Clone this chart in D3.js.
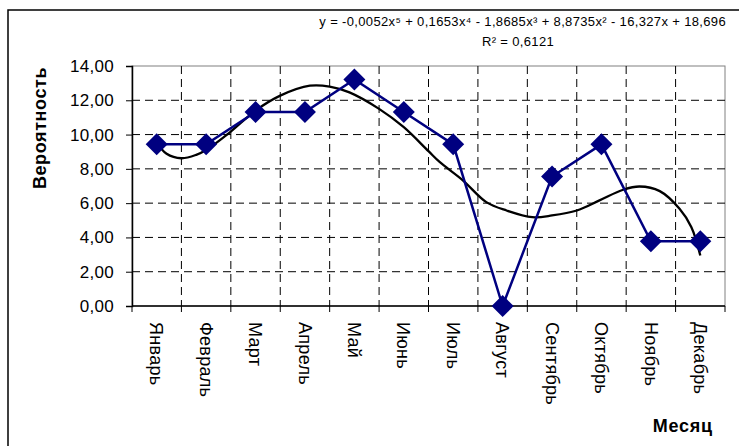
<!DOCTYPE html>
<html>
<head>
<meta charset="utf-8">
<script src="https://cdn.jsdelivr.net/npm/d3@7"></script>
<style>
  body { margin: 0; background: #fff; }
  svg { font-family: "Liberation Sans", Arial, sans-serif; }
</style>
</head>
<body>
<script>
// months and probability values (%)
var months = ['Январь', 'Февраль', 'Март', 'Апрель', 'Май', 'Июнь', 'Июль', 'Август', 'Сентябрь', 'Октябрь', 'Ноябрь', 'Декабрь'];
var values = [9.43, 9.43, 11.32, 11.32, 13.21, 11.32, 9.43, 0, 7.55, 9.43, 3.77, 3.77];
var yTicks = [0, 2, 4, 6, 8, 10, 12, 14];

// trend curve: position in months (1 = Январь) and value
var trendX = [1.0, 1.2, 1.5, 1.8, 2.0, 2.48, 3.0, 3.5, 4.1, 4.5, 4.9, 5.5, 6.0, 6.5, 6.73, 7.2, 7.67, 8.08, 8.6, 9.0, 9.5, 9.96, 10.44, 10.77, 11.18, 11.58, 11.82, 12.0];
var trendY = [9.55, 8.88, 8.62, 8.82, 9.1, 10.13, 11.4, 12.27, 12.85, 12.8, 12.46, 11.5, 10.43, 9.03, 8.39, 7.32, 6.06, 5.57, 5.18, 5.28, 5.57, 6.16, 6.78, 6.97, 6.7, 5.67, 4.6, 2.95];

var equation = 'y = -0,0052x\u2075 + 0,1653x\u2074 - 1,8685x\u00b3 + 8,8735x\u00b2 - 16,327x + 18,696';
var rSquared = 'R\u00b2 = 0,6121';

var width = 739, height = 446;
var plot = { left: 132, top: 66, right: 725, bottom: 306 };

var svg = d3.select('body').append('svg')
    .attr('width', width)
    .attr('height', height);

// outer chart frame (runs off the right and bottom edges)
svg.append('rect')
    .attr('x', 8).attr('y', 10)
    .attr('width', 760).attr('height', 460)
    .attr('fill', 'none')
    .attr('stroke', '#000')
    .attr('stroke-width', 1.5);

var x = d3.scaleBand()
    .domain(months)
    .range([plot.left, plot.right]);

var y = d3.scaleLinear()
    .domain([0, 14])
    .range([plot.bottom, plot.top]);

// continuous month position -> pixel
var xm = d3.scaleLinear()
    .domain([1, 12])
    .range([x(months[0]) + x.bandwidth() / 2, x(months[11]) + x.bandwidth() / 2]);

// plot area border
svg.append('rect')
    .attr('x', plot.left).attr('y', plot.top)
    .attr('width', plot.right - plot.left).attr('height', plot.bottom - plot.top)
    .attr('fill', '#fff')
    .attr('stroke', '#808080')
    .attr('stroke-width', 1);

// horizontal gridlines
svg.append('g')
  .selectAll('line')
  .data(yTicks.filter(function(d){ return d > 0 && d < 14; }))
  .enter().append('line')
    .attr('x1', plot.left).attr('x2', plot.right)
    .attr('y1', function(d){ return y(d); })
    .attr('y2', function(d){ return y(d); })
    .attr('stroke', '#000')
    .attr('stroke-width', 1)
    .attr('stroke-dasharray', '8,5');

// vertical gridlines on category boundaries
svg.append('g')
  .selectAll('line')
  .data(months.slice(1))
  .enter().append('line')
    .attr('x1', function(d){ return x(d); })
    .attr('x2', function(d){ return x(d); })
    .attr('y1', plot.top).attr('y2', plot.bottom)
    .attr('stroke', '#000')
    .attr('stroke-width', 1)
    .attr('stroke-dasharray', '8,5');

// y axis
var yAxis = d3.axisLeft(y)
    .tickValues(yTicks)
    .tickSize(6)
    .tickPadding(12)
    .tickFormat(function(d){ return d3.format('.2f')(d).replace('.', ','); });

var gy = svg.append('g')
    .attr('transform', 'translate(' + plot.left + ',0)')
    .call(yAxis);
gy.select('.domain').attr('stroke', '#000').attr('stroke-width', 1.5);
gy.selectAll('text')
    .attr('font-size', 17)
    .attr('letter-spacing', 0.3)
    .attr('font-family', '"Liberation Sans", Arial, sans-serif')
    .attr('fill', '#000');

// x axis: ticks on boundaries, labels rotated
var gx = svg.append('g')
    .attr('transform', 'translate(0,' + plot.bottom + ')');
gx.append('line')
    .attr('x1', plot.left).attr('x2', plot.right)
    .attr('y1', 0).attr('y2', 0)
    .attr('stroke', '#000').attr('stroke-width', 1.5);
gx.selectAll('.tk')
  .data(months.concat(['end']))
  .enter().append('line')
    .attr('class', 'tk')
    .attr('x1', function(d){ return d === 'end' ? plot.right : x(d); })
    .attr('x2', function(d){ return d === 'end' ? plot.right : x(d); })
    .attr('y1', 0).attr('y2', 6)
    .attr('stroke', '#000');
gx.selectAll('.lbl')
  .data(months)
  .enter().append('text')
    .attr('class', 'lbl')
    .attr('transform', function(d){
        return 'translate(' + (x(d) + x.bandwidth() / 2) + ',16) rotate(90)';
    })
    .attr('dy', '0.35em')
    .attr('font-size', 18)
    .attr('letter-spacing', 0.3)
    .attr('fill', '#000')
    .text(function(d){ return d; });

// trend line
var trend = trendX.map(function(d, i){ return [d, trendY[i]]; });
svg.append('path')
    .datum(trend)
    .attr('fill', 'none')
    .attr('stroke', '#000')
    .attr('stroke-width', 2.3)
    .attr('d', d3.line()
        .x(function(d){ return xm(d[0]); })
        .y(function(d){ return y(d[1]); })
        .curve(d3.curveCatmullRom));

// data series
var line = d3.line()
    .x(function(d, i){ return x(months[i]) + x.bandwidth() / 2; })
    .y(function(d){ return y(d); });

svg.append('path')
    .datum(values)
    .attr('fill', 'none')
    .attr('stroke', '#000080')
    .attr('stroke-width', 2.5)
    .attr('d', line);

svg.append('g')
  .selectAll('path')
  .data(values)
  .enter().append('path')
    .attr('transform', function(d, i){
        return 'translate(' + (x(months[i]) + x.bandwidth() / 2) + ',' + y(d) + ')';
    })
    .attr('d', 'M0,-11L11,0L0,11L-11,0Z')
    .attr('fill', '#000080');

// axis titles
svg.append('text')
    .attr('transform', 'translate(46,128) rotate(-90)')
    .attr('text-anchor', 'middle')
    .attr('font-size', 18)
    .attr('letter-spacing', 0.6)
    .attr('font-weight', 'bold')
    .text('Вероятность');

svg.append('text')
    .attr('x', 713).attr('y', 432)
    .attr('text-anchor', 'end')
    .attr('font-size', 18)
    .attr('letter-spacing', 0.8)
    .attr('font-weight', 'bold')
    .text('Месяц');

// trend equation
svg.append('text')
    .attr('x', 726).attr('y', 26)
    .attr('text-anchor', 'end')
    .attr('font-size', 13)
    .attr('letter-spacing', 0.35)
    .text(equation);

svg.append('text')
    .attr('x', 518).attr('y', 46)
    .attr('text-anchor', 'middle')
    .attr('font-size', 13)
    .attr('letter-spacing', 0.35)
    .text(rSquared);
</script>
</body>
</html>
